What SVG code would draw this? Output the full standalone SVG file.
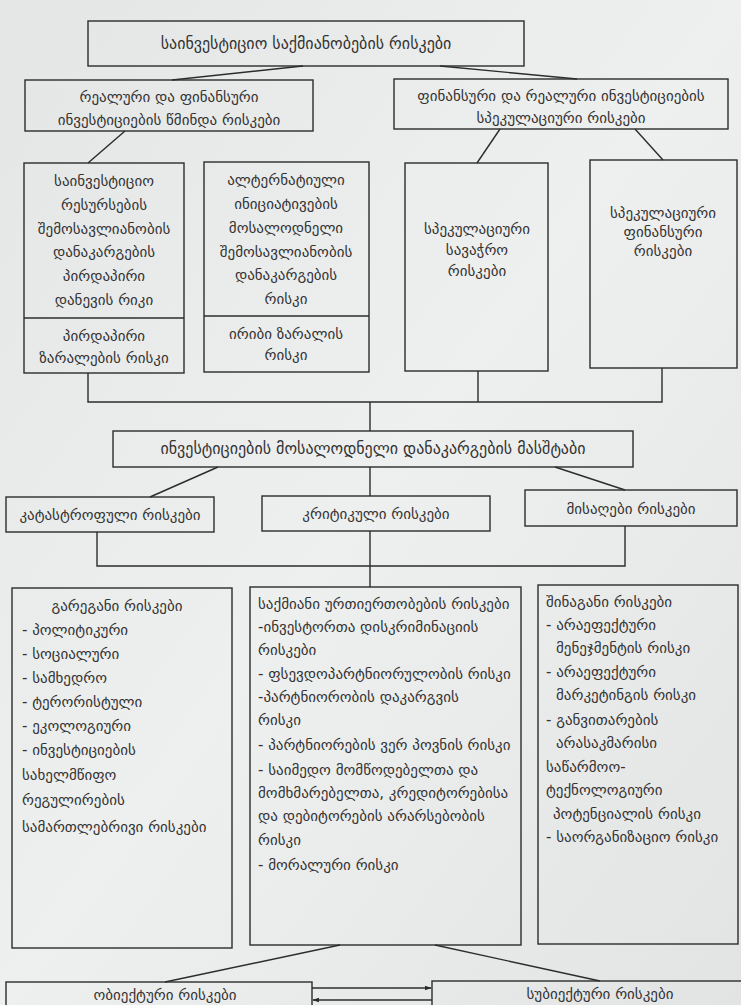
<svg xmlns="http://www.w3.org/2000/svg" width="741" height="1005" viewBox="0 0 741 1005">
  <defs>
    <linearGradient id="paper" x1="0" y1="0" x2="1" y2="1">
      <stop offset="0" stop-color="#e4e6e6"/>
      <stop offset="0.5" stop-color="#eeefef"/>
      <stop offset="1" stop-color="#e2e3e3"/>
    </linearGradient>
    <marker id="arrow" viewBox="0 0 10 10" refX="9" refY="5" markerWidth="7" markerHeight="7" orient="auto-start-reverse" markerUnits="userSpaceOnUse">
      <path d="M0,1.5 L10,5 L0,8.5 z" fill="#2a2a2a"/>
    </marker>
    <style>
      .box { fill: none; stroke: #2c2c2c; stroke-width: 1.4; }
      .line { fill: none; stroke: #2c2c2c; stroke-width: 1.4; }
      text { font-family: "DejaVu Sans", "Noto Sans", sans-serif; font-size: 15px; fill: #333; }
      .c { text-anchor: middle; }
      .big { font-size: 16px; }
    </style>
  </defs>

  <rect x="0" y="0" width="741" height="1005" fill="url(#paper)"/>

  <!-- connectors -->
  <g id="connectors">
    <line class="line" x1="303" y1="66" x2="172" y2="80"/>
    <line class="line" x1="440" y1="66" x2="577" y2="79"/>
    <line class="line" x1="125" y1="131" x2="88" y2="163"/>
    <line class="line" x1="500" y1="129" x2="477" y2="163"/>
    <line class="line" x1="635" y1="129" x2="663" y2="160"/>
    <polyline class="line" points="88,373 88,402 662,402 662,368"/>
    <line class="line" x1="478" y1="371" x2="478" y2="402"/>
    <line class="line" x1="370" y1="402" x2="370" y2="431"/>
    <line class="line" x1="218" y1="467" x2="150" y2="497"/>
    <line class="line" x1="370" y1="467" x2="370" y2="496"/>
    <line class="line" x1="555" y1="467" x2="625" y2="490"/>
    <polyline class="line" points="97,532 97,566 625,566 625,526"/>
    <line class="line" x1="370" y1="531" x2="370" y2="587"/>
    <line class="line" x1="340" y1="945" x2="165" y2="982"/>
    <line class="line" x1="435" y1="945" x2="600" y2="981"/>
    <line class="line" x1="312" y1="988" x2="431" y2="988" marker-end="url(#arrow)"/>
    <line class="line" x1="432" y1="1000" x2="313" y2="1000" marker-end="url(#arrow)"/>
  </g>

  <g id="n-root">
    <rect class="box" x="88" y="21" width="436" height="45"/>
    <text class="c big" x="306" y="49">საინვესტიციო საქმიანობების რისკები</text>
  </g>

  <g id="n-pure">
    <rect class="box" x="25" y="80" width="288" height="51"/>
    <text class="c" x="169" y="102">რეალური და ფინანსური</text>
    <text class="c" x="169" y="125">ინვესტიციების წმინდა რისკები</text>
  </g>

  <g id="n-speculative">
    <rect class="box" x="394" y="79" width="334" height="50"/>
    <text class="c" x="561" y="101">ფინანსური და რეალური ინვესტიციების</text>
    <text class="c" x="561" y="123">სპეკულაციური რისკები</text>
  </g>

  <g id="n-direct">
    <rect class="box" x="24" y="163" width="160" height="210"/>
    <line class="line" x1="24" y1="318" x2="184" y2="318"/>
    <text class="c" x="104" y="186">საინვესტიციო</text>
    <text class="c" x="104" y="210">რესურსების</text>
    <text class="c" x="104" y="234">შემოსავლიანობის</text>
    <text class="c" x="104" y="257">დანაკარგების</text>
    <text class="c" x="104" y="281">პირდაპირი</text>
    <text class="c" x="104" y="305">დანევის რიკი</text>
    <text class="c" x="104" y="341">პირდაპირი</text>
    <text class="c" x="104" y="363">ზარალების რისკი</text>
  </g>

  <g id="n-indirect">
    <rect class="box" x="204" y="162" width="165" height="210"/>
    <line class="line" x1="204" y1="316" x2="369" y2="316"/>
    <text class="c" x="286" y="185">ალტერნატიული</text>
    <text class="c" x="286" y="209">ინიციატივების</text>
    <text class="c" x="286" y="233">მოსალოდნელი</text>
    <text class="c" x="286" y="257">შემოსავლიანობის</text>
    <text class="c" x="286" y="280">დანაკარგების</text>
    <text class="c" x="286" y="304">რისკი</text>
    <text class="c" x="286" y="339">ირიბი ზარალის</text>
    <text class="c" x="286" y="360">რისკი</text>
  </g>

  <g id="n-trade">
    <rect class="box" x="405" y="163" width="143" height="208"/>
    <text class="c" x="477" y="234">სპეკულაციური</text>
    <text class="c" x="477" y="255">სავაჭრო</text>
    <text class="c" x="477" y="276">რისკები</text>
  </g>

  <g id="n-financial">
    <rect class="box" x="590" y="160" width="147" height="208"/>
    <text class="c" x="663" y="218">სპეკულაციური</text>
    <text class="c" x="663" y="237">ფინანსური</text>
    <text class="c" x="663" y="256">რისკები</text>
  </g>

  <g id="n-scale">
    <rect class="box" x="113" y="431" width="520" height="36"/>
    <text class="c big" x="373" y="454">ინვესტიციების მოსალოდნელი დანაკარგების მასშტაბი</text>
  </g>

  <g id="n-catastrophic">
    <rect class="box" x="6" y="497" width="208" height="35"/>
    <text class="c" x="110" y="520">კატასტროფული რისკები</text>
  </g>

  <g id="n-critical">
    <rect class="box" x="262" y="496" width="228" height="35"/>
    <text class="c" x="376" y="519">კრიტიკული რისკები</text>
  </g>

  <g id="n-acceptable">
    <rect class="box" x="525" y="490" width="212" height="36"/>
    <text class="c" x="631" y="514">მისაღები რისკები</text>
  </g>

  <g id="n-external">
    <rect class="box" x="12" y="588" width="220" height="360"/>
    <text class="c" x="117" y="611">გარეგანი რისკები</text>
    <text x="22" y="635">- პოლიტიკური</text>
    <text x="22" y="659">- სოციალური</text>
    <text x="22" y="683">- სამხედრო</text>
    <text x="22" y="707">- ტერორისტული</text>
    <text x="22" y="731">- ეკოლოგიური</text>
    <text x="22" y="755">- ინვესტიციების</text>
    <text x="22" y="780">სახელმწიფო</text>
    <text x="22" y="805">რეგულირების</text>
    <text x="22" y="832">სამართლებრივი რისკები</text>
  </g>

  <g id="n-business">
    <rect class="box" x="250" y="587" width="271" height="358"/>
    <text x="258" y="609">საქმიანი ურთიერთობების რისკები</text>
    <text x="258" y="632">-ინვესტორთა დისკრიმინაციის</text>
    <text x="258" y="655">რისკები</text>
    <text x="258" y="679">- ფსევდოპარტნიორულობის რისკი</text>
    <text x="258" y="702">-პარტნიორობის დაკარგვის</text>
    <text x="258" y="725">რისკი</text>
    <text x="258" y="750">- პარტნიორების ვერ პოვნის რისკი</text>
    <text x="258" y="775">- საიმედო მომწოდებელთა და</text>
    <text x="258" y="798">მომხმარებელთა, კრედიტორებისა</text>
    <text x="258" y="821">და დებიტორების არარსებობის</text>
    <text x="258" y="845">რისკი</text>
    <text x="258" y="870">- მორალური რისკი</text>
  </g>

  <g id="n-internal">
    <rect class="box" x="538" y="585" width="200" height="359"/>
    <text x="546" y="607">შინაგანი რისკები</text>
    <text x="546" y="630">- არაეფექტური</text>
    <text x="556" y="653">მენეჯმენტის რისკი</text>
    <text x="546" y="677">- არაეფექტური</text>
    <text x="556" y="700">მარკეტინგის რისკი</text>
    <text x="546" y="725">- განვითარების</text>
    <text x="556" y="748">არასაკმარისი</text>
    <text x="546" y="772">საწარმოო-</text>
    <text x="546" y="795">ტექნოლოგიური</text>
    <text x="553" y="819">პოტენციალის რისკი</text>
    <text x="546" y="842">- საორგანიზაციო რისკი</text>
  </g>

  <g id="n-objective">
    <rect class="box" x="6" y="982" width="306" height="30"/>
    <text class="c" x="165" y="1000">ობიექტური რისკები</text>
  </g>

  <g id="n-subjective">
    <rect class="box" x="432" y="981" width="315" height="30"/>
    <text class="c" x="600" y="999">სუბიექტური რისკები</text>
  </g>
</svg>
